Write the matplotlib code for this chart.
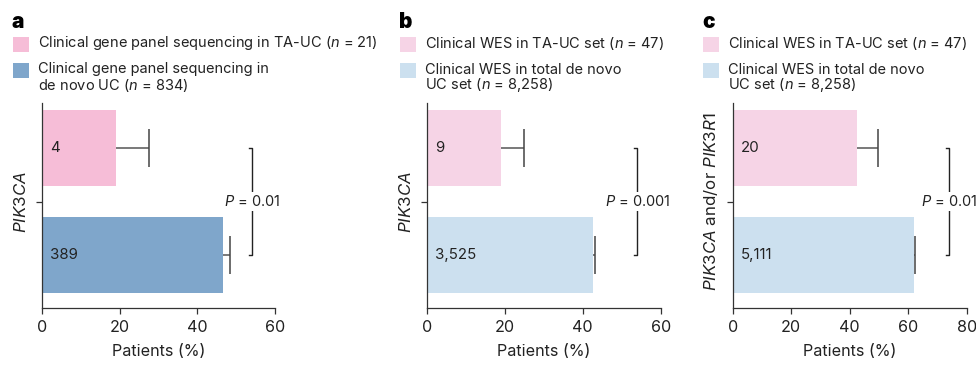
import matplotlib
matplotlib.use('Agg')
import matplotlib.pyplot as plt
from matplotlib.patches import Rectangle

plt.rcParams['font.family'] = ['Inter', 'DejaVu Sans']
plt.rcParams['mathtext.fontset'] = 'custom'
plt.rcParams['mathtext.rm'] = 'Inter'
plt.rcParams['mathtext.it'] = 'Inter:italic'

# ---------------- data ----------------
panel_letters = ['a', 'b', 'c']
gene_labels = [r'$\it{PIK3CA}$', r'$\it{PIK3CA}$', r'$\it{PIK3CA}$ and/or $\it{PIK3R1}$']
pct_a = [19.05, 46.64]
err_a = [8.6, 1.7]
counts_a = ['4', '389']
pct_b = [19.15, 42.69]
err_b = [5.7, 0.54]
counts_b = ['9', '3,525']
pct_c = [42.55, 61.89]
err_c = [7.2, 0.53]
counts_c = ['20', '5,111']
xmax = [60, 60, 80]
xticks = [[0, 20, 40, 60], [0, 20, 40, 60], [0, 20, 40, 60, 80]]
p_values = ['0.01', '0.001', '0.01']
bracket_x = [54, 54, 74]
legend_labels = [
    [r'Clinical gene panel sequencing in TA-UC ($\it{n}$ = 21)',
     'Clinical gene panel sequencing in\n' + r'de novo UC ($\it{n}$ = 834)'],
    [r'Clinical WES in TA-UC set ($\it{n}$ = 47)',
     'Clinical WES in total de novo\n' + r'UC set ($\it{n}$ = 8,258)'],
    [r'Clinical WES in TA-UC set ($\it{n}$ = 47)',
     'Clinical WES in total de novo\n' + r'UC set ($\it{n}$ = 8,258)'],
]
colors = [['#F6BDD7', '#7FA6CB'], ['#F6D4E6', '#CCE0EF'], ['#F6D4E6', '#CCE0EF']]

pcts = [pct_a, pct_b, pct_c]
errs = [err_a, err_b, err_c]
counts = [counts_a, counts_b, counts_c]

# ---------------- layout (pixels) ----------------
W, H = 976, 366
fig = plt.figure(figsize=(W / 100, H / 100), dpi=100)
ax_lr = [(41.7, 275.3), (426.7, 660.7), (732.7, 966.7)]
ax_top, ax_bot = 103.0, 308.3
legend_x = [13, 400, 703]
dark = '#333333'
txt = '#222222'

ov = fig.add_axes([0, 0, 1, 1])
ov.set_xlim(0, W)
ov.set_ylim(H, 0)
ov.axis('off')

ypos = [1, 0]
for i in range(3):
    l, r = ax_lr[i]
    ax = fig.add_axes([l / W, (H - ax_bot) / H, (r - l) / W, (ax_bot - ax_top) / H])
    ax.patch.set_alpha(0)
    for j in range(2):
        ax.barh(ypos[j], pcts[i][j], height=0.71, color=colors[i][j], zorder=1)
        x_end = pcts[i][j] + errs[i][j]
        ax.hlines(ypos[j], pcts[i][j], x_end, color='#555555', lw=1.1, zorder=2)
        ax.vlines(x_end, ypos[j] - 0.177, ypos[j] + 0.177, color='#444444', lw=1.1, zorder=2)
        ax.annotate(counts[i][j], xy=(0, ypos[j]), xytext=(6, 0), textcoords='offset points',
                    ha='left', va='center', fontsize=10.8, color=txt)
    ax.set_xlim(0, xmax[i])
    ax.set_ylim(-0.495, 1.423)
    ax.set_xticks(xticks[i])
    ax.set_yticks([0.5])
    ax.set_yticklabels([gene_labels[i]], rotation=90, va='center', fontsize=12.2)
    ax.tick_params(axis='both', length=4.5, width=0.9, color=dark, labelcolor=txt)
    ax.tick_params(axis='x', pad=4, labelsize=11.6)
    ax.tick_params(axis='y', pad=4.5)
    for s in ['top', 'right']:
        ax.spines[s].set_visible(False)
    for s in ['left', 'bottom']:
        ax.spines[s].set_color(dark)
        ax.spines[s].set_linewidth(0.9)
    ax.set_xlabel('Patients (%)', fontsize=11.6, color=txt, labelpad=6.5)
    # bracket
    bx = bracket_x[i]
    tk = 0.0145 * xmax[i]
    ax.plot([bx - tk, bx, bx, bx - tk], [1, 1, 0, 0], color=txt, lw=1.0,
            clip_on=False, zorder=3)
    ax.text(bx, 0.5, r'$\it{P}$ = ' + p_values[i], ha='center', va='center', fontsize=10.5,
            color=txt, zorder=4, clip_on=False,
            bbox=dict(fc='white', ec='none', pad=1.5))

    # legend and panel letter
    lx = legend_x[i]
    ov.text(lx - 1, 22, panel_letters[i], fontsize=15, fontweight='black',
            ha='left', va='center', color='black')
    ov.add_patch(Rectangle((lx, 36.7), 16, 15, color=colors[i][0], lw=0))
    ov.add_patch(Rectangle((lx, 62.5), 16, 15, color=colors[i][1], lw=0))
    ov.text(lx + 25, 43.5, legend_labels[i][0], fontsize=10.5, ha='left', va='center',
            color=txt)
    for k, line in enumerate(legend_labels[i][1].split('\n')):
        ov.text(lx + 25, 69.5 + 16 * k, line, fontsize=10.5, ha='left', va='center',
                color=txt)

fig.savefig('out.png', dpi=100)
